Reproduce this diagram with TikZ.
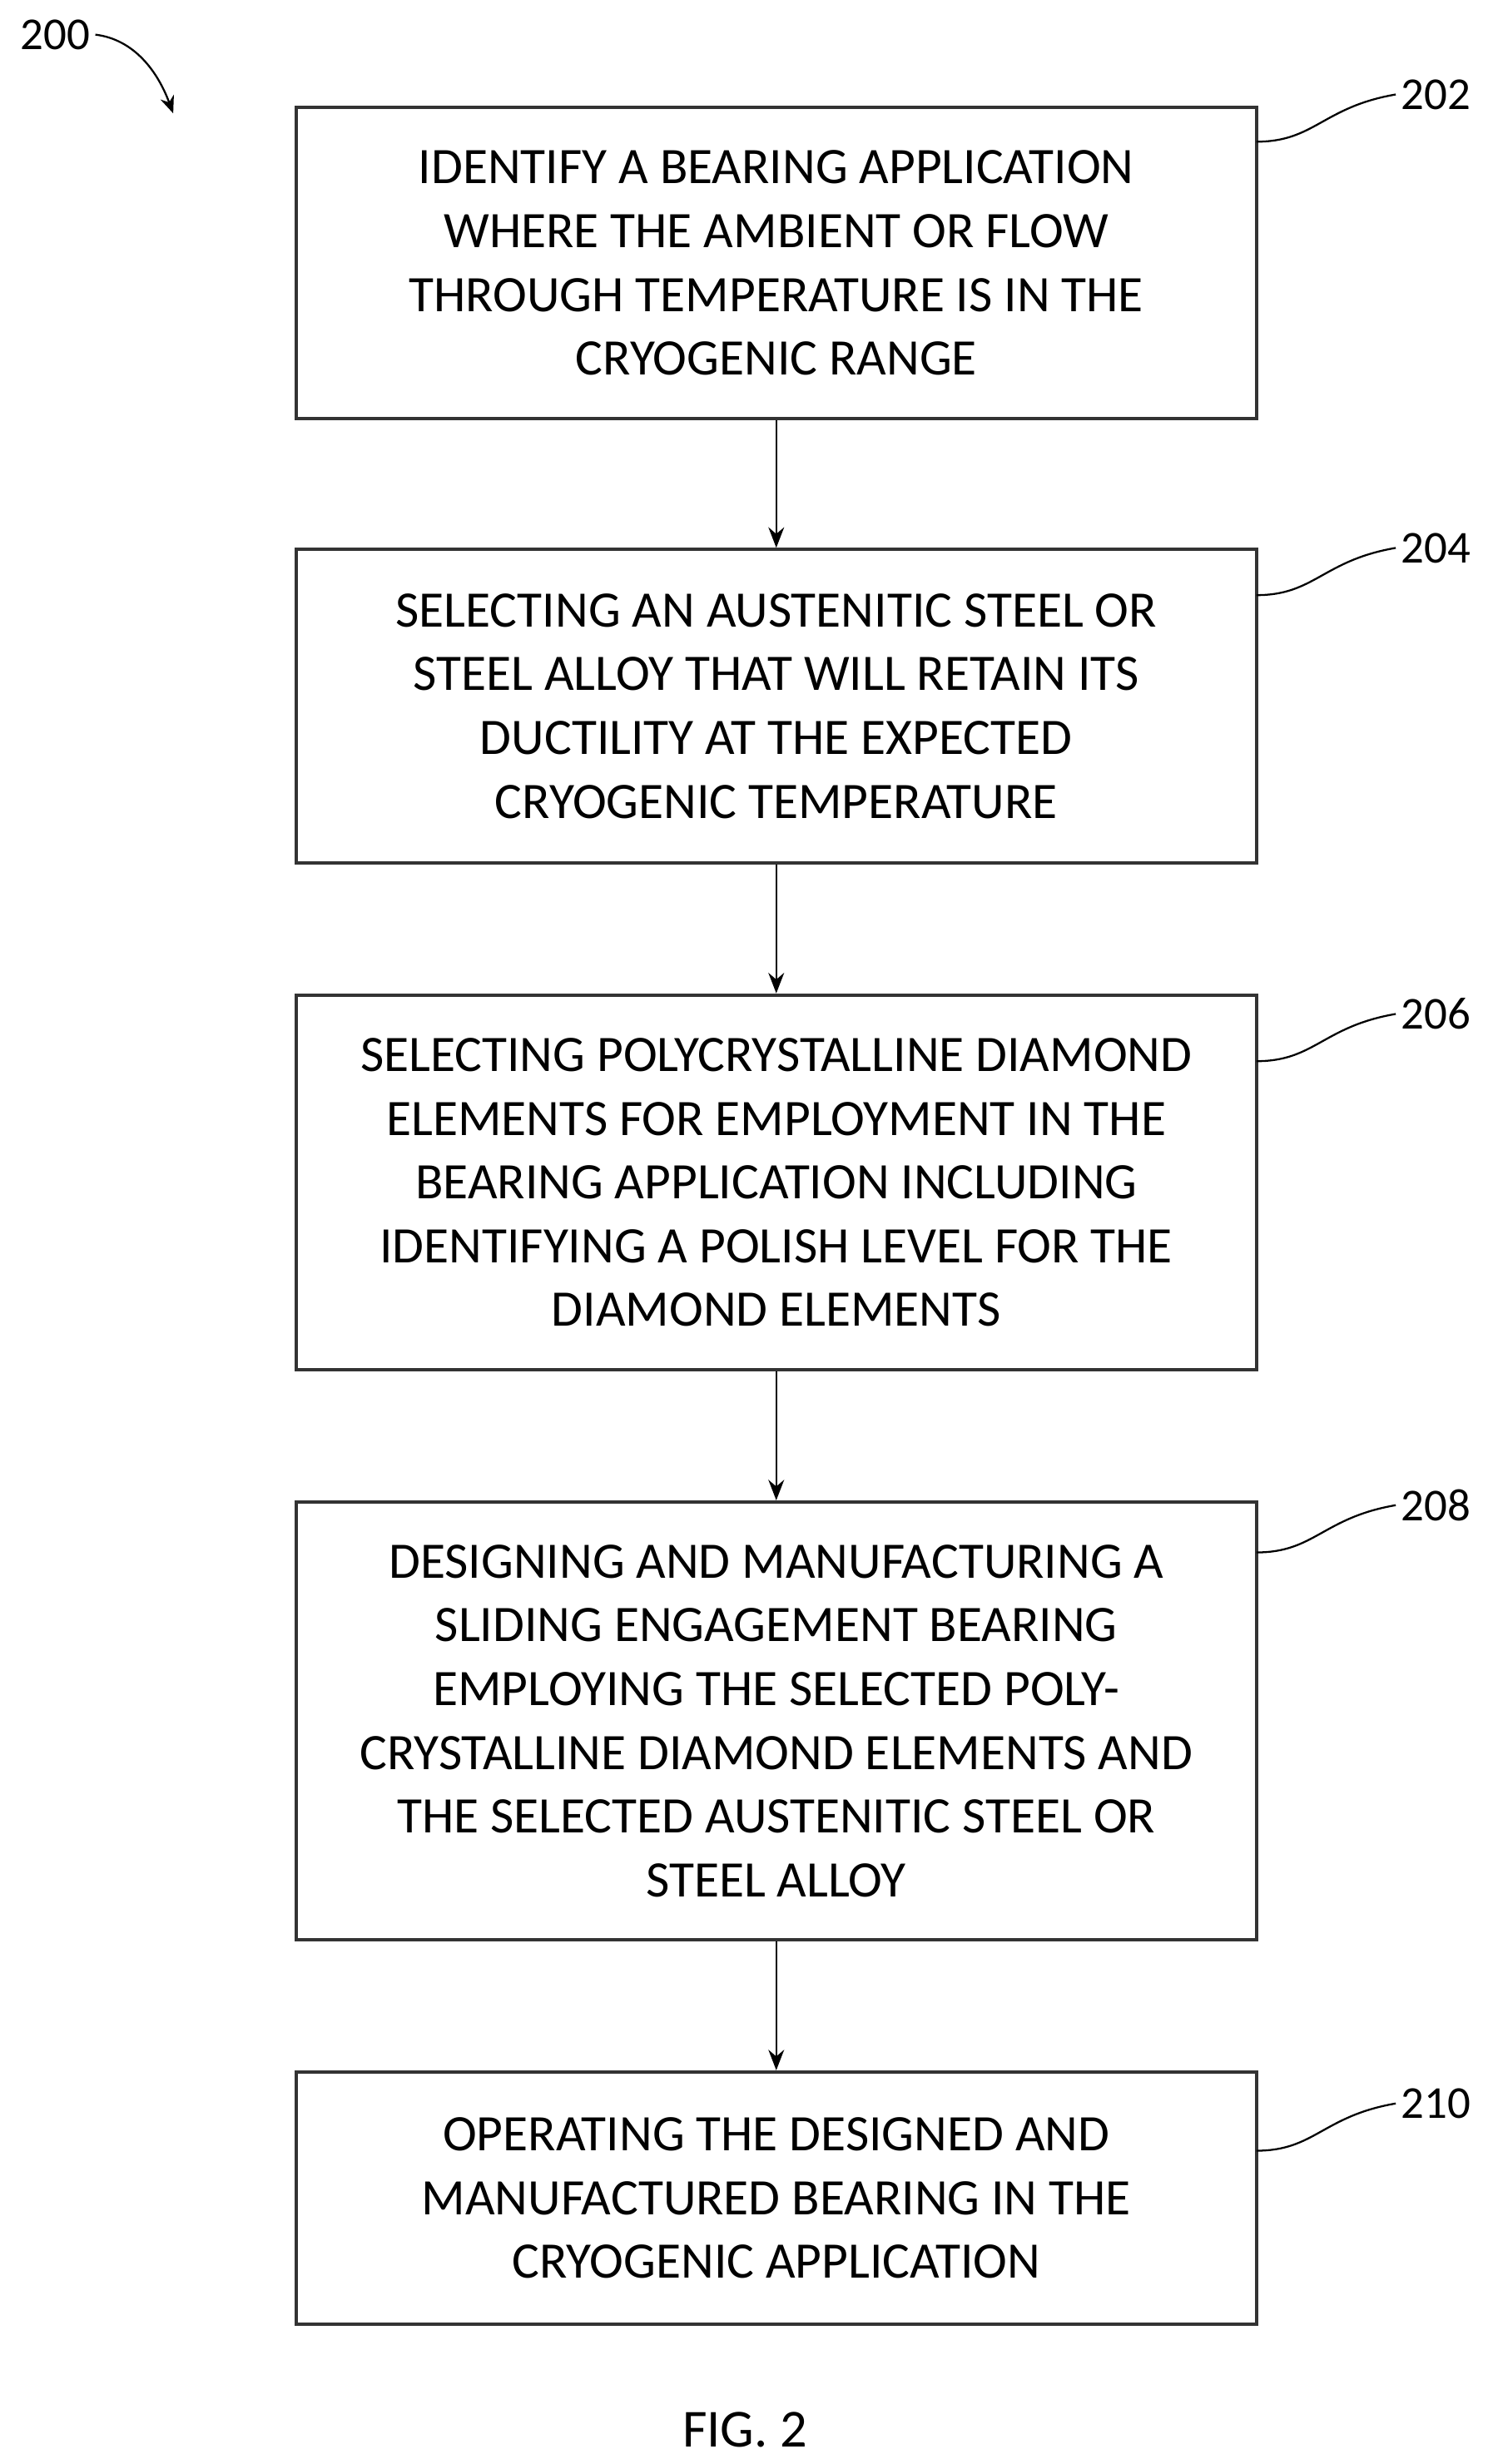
\documentclass[tikz,border=0pt]{standalone}
\usepackage{fontspec}
\setmainfont{Carlito}
\usetikzlibrary{arrows.meta}
\begin{document}
\begin{tikzpicture}[x=1pt,y=-1pt,
 box/.style={draw=black!80,line width=2.2pt,minimum width=610pt,align=center,font=\fontsize{32.5}{40.5}\selectfont,inner sep=0pt},
 arr/.style={-{Stealth[length=13pt,width=10pt]},line width=1.2pt},
 lab/.style={font=\fontsize{29}{30}\selectfont},
 sq/.style={line width=1.2pt}]
\useasboundingbox (0,0) rectangle (948,1565);
\node[box,minimum height=198pt] (b1) at (493,167) {IDENTIFY A BEARING APPLICATION\\WHERE THE AMBIENT OR FLOW\\THROUGH TEMPERATURE IS IN THE\\CRYOGENIC RANGE};
\node[box,minimum height=199pt] (b2) at (493,448.5) {SELECTING AN AUSTENITIC STEEL OR\\STEEL ALLOY THAT WILL RETAIN ITS\\DUCTILITY AT THE EXPECTED\\CRYOGENIC TEMPERATURE};
\node[box,minimum height=238pt] (b3) at (493,751) {SELECTING POLYCRYSTALLINE DIAMOND\\ELEMENTS FOR EMPLOYMENT IN THE\\BEARING APPLICATION INCLUDING\\IDENTIFYING A POLISH LEVEL FOR THE\\DIAMOND ELEMENTS};
\node[box,minimum height=278pt] (b4) at (493,1093) {DESIGNING AND MANUFACTURING A\\SLIDING ENGAGEMENT BEARING\\EMPLOYING THE SELECTED POLY-\\CRYSTALLINE DIAMOND ELEMENTS AND\\THE SELECTED AUSTENITIC STEEL OR\\STEEL ALLOY};
\node[box,minimum height=160pt] (b5) at (493,1396) {OPERATING THE DESIGNED AND\\MANUFACTURED BEARING IN THE\\CRYOGENIC APPLICATION};
\draw[arr] (b1.south) -- (b2.north);
\draw[arr] (b2.south) -- (b3.north);
\draw[arr] (b3.south) -- (b4.north);
\draw[arr] (b4.south) -- (b5.north);
\foreach \t/\y in {202/60,204/348,206/644,208/956,210/1336}{
 \node[lab] (l\t) at (912,\y) {\t};
 \draw[sq] (798,\y+30) .. controls (835,\y+30) and (840,\y+8) .. (l\t.west);
}
\node[lab] (l200) at (35,22) {200};
\coordinate (a200) at (110,72);
\draw[-{Stealth[length=11pt,width=9pt]},line width=1.2pt] (l200.east) .. controls (85,25) and (100,45) .. (a200);
\node[font=\fontsize{34}{36}\selectfont] (fig) at (473,1543) {FIG. 2};
\end{tikzpicture}
\end{document}
